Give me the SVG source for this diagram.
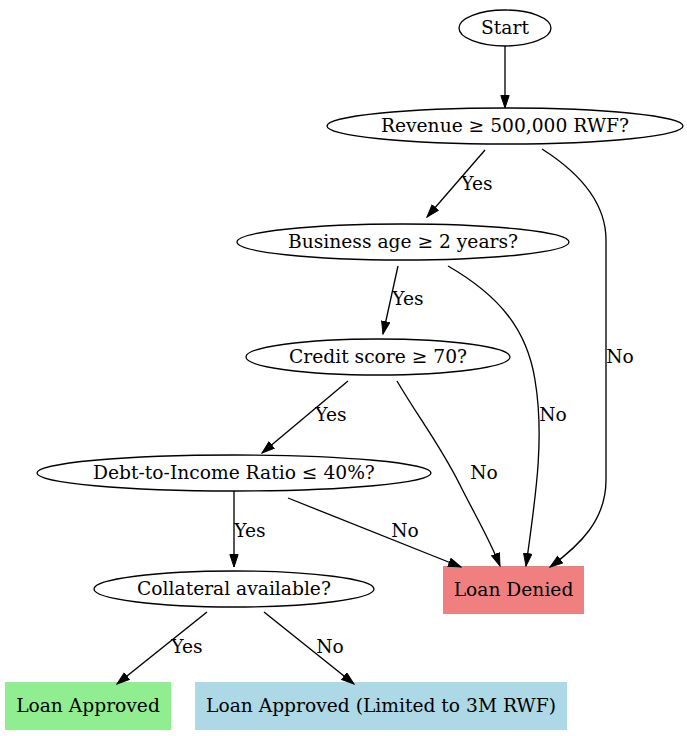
<svg xmlns="http://www.w3.org/2000/svg" width="687" height="736" viewBox="0 0 687 736">
<defs>
<marker id="arr" markerUnits="userSpaceOnUse" markerWidth="14" markerHeight="11" refX="13" refY="4.67" orient="auto">
<path d="M0.5,0.5 L13,4.67 L0.5,8.83 z" fill="#000" stroke="#000" stroke-width="1"/>
</marker>
<style>
text{font-family:"DejaVu Serif","Liberation Serif",serif;font-size:18.67px;fill:#000}
.n text{text-anchor:middle}
ellipse{fill:none;stroke:#000;stroke-width:1.33}
.e path{fill:none;stroke:#000;stroke-width:1.33;marker-end:url(#arr)}
.l{text-anchor:middle}
</style>
</defs>
<rect width="687" height="736" fill="#fff"/>
<g id="start" class="n"><ellipse cx="505" cy="28" rx="46" ry="18"/><text x="505" y="34">Start</text></g>
<g id="revenue" class="n"><ellipse cx="505" cy="126" rx="178" ry="18"/><text x="505" y="132">Revenue ≥ 500,000 RWF?</text></g>
<g id="business" class="n"><ellipse cx="403" cy="242" rx="166" ry="18"/><text x="403" y="248">Business age ≥ 2 years?</text></g>
<g id="credit" class="n"><ellipse cx="378" cy="357" rx="132" ry="18"/><text x="378" y="363">Credit score ≥ 70?</text></g>
<g id="dti" class="n"><ellipse cx="234" cy="473" rx="197" ry="18"/><text x="234" y="479">Debt-to-Income Ratio ≤ 40%?</text></g>
<g id="collateral" class="n"><ellipse cx="234" cy="589" rx="140" ry="18"/><text x="234" y="595">Collateral available?</text></g>
<g id="denied" class="n"><rect x="443" y="566" width="141" height="48" fill="#f08080"/><text x="513.5" y="596">Loan Denied</text></g>
<g id="approved" class="n"><rect x="5" y="682" width="166" height="48" fill="#90ee90"/><text x="88" y="712">Loan Approved</text></g>
<g id="limited" class="n"><rect x="195" y="682" width="372" height="48" fill="#add8e6"/><text x="381" y="712">Loan Approved (Limited to 3M RWF)</text></g>
<g id="edges" class="e">
<path d="M505,46 L505,108"/>
<path d="M485,150 L427,217"/>
<path d="M542,149 C575,170 606,200 606,240 L606,480 C606,520 580,545 550,567"/>
<path d="M398,266 L383,334"/>
<path d="M448,266 C500,296 527,330 535,380 C545,440 535,500 526,566"/>
<path d="M348,381 L262,453"/>
<path d="M397,381 C420,420 440,445 460,485 C475,515 490,540 500,566"/>
<path d="M234,491 L234,567"/>
<path d="M288,498 L461,567"/>
<path d="M207,612 L117,684"/>
<path d="M264,612 L354,684"/>
<text class="l" x="477" y="190">Yes</text>
<text class="l" x="620" y="363">No</text>
<text class="l" x="408" y="305">Yes</text>
<text class="l" x="553" y="421">No</text>
<text class="l" x="331" y="421">Yes</text>
<text class="l" x="484" y="479">No</text>
<text class="l" x="250" y="537">Yes</text>
<text class="l" x="405" y="537">No</text>
<text class="l" x="187" y="653">Yes</text>
<text class="l" x="330" y="653">No</text>
</g>
</svg>
